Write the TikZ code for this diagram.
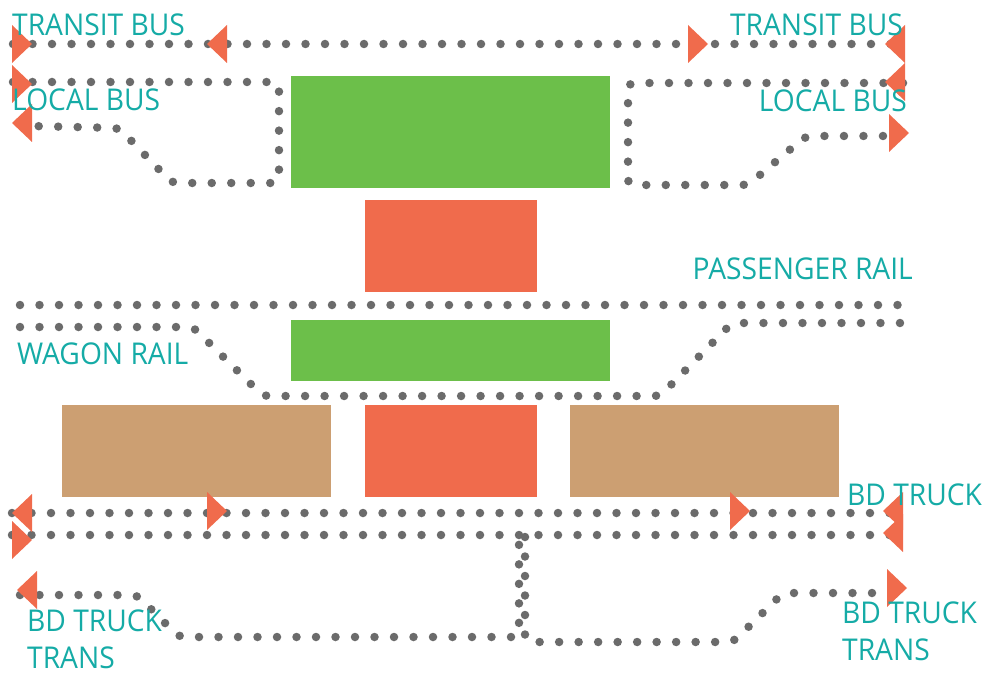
\documentclass[tikz,border=0pt]{standalone}
\usepackage{fontspec}
\setmainfont{Open Sans}[FakeStretch=0.94]
\definecolor{blockgreen}{HTML}{6CBF4A}
\definecolor{blockred}{HTML}{F06B4C}
\definecolor{blocktan}{HTML}{CC9F72}
\definecolor{labelteal}{HTML}{15ABA6}
\definecolor{dotgray}{HTML}{6B6B6B}
\tikzset{
  route/.style={draw=dotgray, line width=8.5pt, line cap=round,
    dash pattern=on 0pt off 19.5pt, rounded corners=6pt},
  block/.style={anchor=north west, inner sep=0pt, outer sep=0pt},
  lbl/.style={text=labelteal, inner sep=0pt, font=\fontsize{30}{37}\selectfont, align=left},
  headtri/.pic={\fill[blockred] (0,0) -- (-20,-19) -- (-20,19) -- cycle;}
}
\begin{document}
\begin{tikzpicture}[x=1pt,y=-1pt]
\useasboundingbox (0,0) rectangle (985,674);

% blocks
\node[block, fill=blockgreen, minimum width=319pt, minimum height=112pt] (terminal) at (291,76) {};
\node[block, fill=blockred, minimum width=172pt, minimum height=92pt] (hubtop) at (365,200) {};
\node[block, fill=blockgreen, minimum width=319pt, minimum height=61pt] (platform) at (291,320) {};
\node[block, fill=blocktan, minimum width=269pt, minimum height=92pt] (depotleft) at (62,405) {};
\node[block, fill=blockred, minimum width=172pt, minimum height=92pt] (hubbottom) at (365,405) {};
\node[block, fill=blocktan, minimum width=269pt, minimum height=92pt] (depotright) at (570,405) {};

% transit bus
\draw[route] (13,44) -- (903,44);
% local bus, left loop
\draw[route] (13,82) -- (279,82) -- (279,183) -- (172,183) -- (119,128) -- (30,126);
% local bus, right loop
\draw[route] (903,83) -- (628,83) -- (628,185) -- (748,185) -- (806,136) -- (890,136);
% passenger rail
\draw[route] (20,305) -- (902,305);
% wagon rail
\draw[route] (20,327) -- (193,327) -- (263,396) -- (660,396) -- (732,323) -- (903,323);
% bd truck
\draw[route] (12,513) -- (903,513);
\draw[route] (12,535) -- (905,535);
% bd truck trans
\draw[route] (20,595) -- (137,595) -- (179,637) -- (519,637) -- (519,537);
\draw[route] (525,537) -- (525,642) -- (733,642) -- (783,593) -- (888,593);

% arrowheads
\pic at (32,44) {headtri};
\pic[rotate=180] at (207,44) {headtri};
\pic at (708,44) {headtri};
\pic[rotate=180] at (885,44) {headtri};
\pic at (32,84) {headtri};
\pic[rotate=180] at (885,82) {headtri};
\pic[rotate=180] at (12,123) {headtri};
\pic at (909,133) {headtri};
\pic[rotate=180] at (12,513) {headtri};
\pic at (227,511) {headtri};
\pic at (750,511) {headtri};
\pic[rotate=180] at (883,511) {headtri};
\pic at (32,540) {headtri};
\pic[rotate=180] at (883,533) {headtri};
\pic[rotate=180] at (17,590) {headtri};
\pic at (907,588) {headtri};

% labels
\node[lbl, anchor=base west] (tbl) at (12,36) {TRANSIT BUS};
\node[lbl, anchor=base east] (tbr) at (903,36) {TRANSIT BUS};
\node[lbl, anchor=base west] (lbl) at (12,111) {LOCAL BUS};
\node[lbl, anchor=base east] (lbr) at (907,112) {LOCAL BUS};
\node[lbl, anchor=base east] (pr) at (913,279) {PASSENGER RAIL};
\node[lbl, anchor=base west] (wr) at (17,364) {WAGON RAIL};
\node[lbl, anchor=base west] (bdt) at (847,505) {BD TRUCK};
\node[lbl, anchor=base west] (bdtl) at (27,668) {BD TRUCK\\TRANS};
\node[lbl, anchor=base west] (bdtr) at (842,660) {BD TRUCK\\TRANS};
\end{tikzpicture}
\end{document}
